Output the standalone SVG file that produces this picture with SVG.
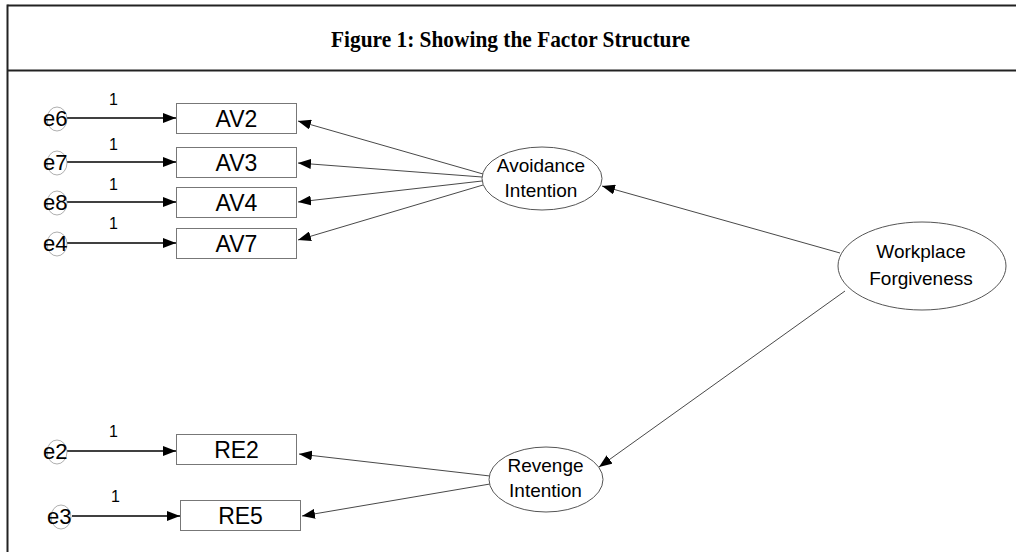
<svg xmlns="http://www.w3.org/2000/svg" width="1016" height="552" viewBox="0 0 1016 552">
<style>
.frame{stroke:#222;stroke-width:2;fill:none}
.title{font-family:"Liberation Serif",serif;font-weight:bold;font-size:23px;fill:#000}
.box{fill:#fff;stroke:#777;stroke-width:1}
.boxt{font-family:"Liberation Sans",Arial,sans-serif;font-size:23px;fill:#000;text-anchor:middle}
.lat{fill:#fff;stroke:#555;stroke-width:1}
.latt{font-family:"Liberation Sans",Arial,sans-serif;font-size:19px;fill:#000;text-anchor:middle}
.err{fill:none;stroke:#999;stroke-width:0.8}
.errt{font-family:"Liberation Sans",Arial,sans-serif;font-size:22px;fill:#000}
.one{font-family:"Liberation Sans",Arial,sans-serif;font-size:16px;fill:#000}
.ec{stroke:#000;stroke-width:1.3;fill:none}
.pc{stroke:#333;stroke-width:0.9;fill:none}
</style>
<defs>
<marker id="ah" viewBox="0 0 13 10" refX="13" refY="5" markerWidth="13" markerHeight="10" markerUnits="userSpaceOnUse" orient="auto">
<path d="M0,0 L13,5 L0,10 Z" fill="#000"/>
</marker>
</defs>
<rect width="1016" height="552" fill="#fff"/>
<g id="frame">
<line class="frame" x1="7.5" y1="5.5" x2="1016" y2="5.5"/>
<line class="frame" x1="7.5" y1="70.5" x2="1016" y2="70.5"/>
<line class="frame" x1="7.5" y1="4.5" x2="7.5" y2="552"/>
<text class="title" x="331" y="47" textLength="359" lengthAdjust="spacingAndGlyphs">Figure 1: Showing the Factor Structure</text>
</g>
<g id="connectors">
<line class="ec" x1="67" y1="118" x2="176" y2="118" marker-end="url(#ah)"/>
<line class="ec" x1="67" y1="162" x2="176" y2="162" marker-end="url(#ah)"/>
<line class="ec" x1="67" y1="202" x2="176" y2="202" marker-end="url(#ah)"/>
<line class="ec" x1="67" y1="243" x2="176" y2="243" marker-end="url(#ah)"/>
<line class="ec" x1="67" y1="451" x2="176" y2="451" marker-end="url(#ah)"/>
<line class="ec" x1="72" y1="516" x2="180" y2="516" marker-end="url(#ah)"/>
<line class="pc" x1="483" y1="174" x2="298" y2="121" marker-end="url(#ah)"/>
<line class="pc" x1="482" y1="177" x2="298" y2="163" marker-end="url(#ah)"/>
<line class="pc" x1="482" y1="181" x2="298" y2="202" marker-end="url(#ah)"/>
<line class="pc" x1="483" y1="185" x2="298" y2="240" marker-end="url(#ah)"/>
<line class="pc" x1="840" y1="253" x2="602" y2="186" marker-end="url(#ah)"/>
<line class="pc" x1="845" y1="291" x2="599" y2="467" marker-end="url(#ah)"/>
<line class="pc" x1="490" y1="476" x2="299" y2="454" marker-end="url(#ah)"/>
<line class="pc" x1="490" y1="484" x2="302" y2="516" marker-end="url(#ah)"/>
<text class="one" x="109" y="105">1</text>
<text class="one" x="109" y="150">1</text>
<text class="one" x="109" y="190">1</text>
<text class="one" x="109" y="229">1</text>
<text class="one" x="109" y="437">1</text>
<text class="one" x="111" y="502">1</text>
</g>
<g id="e6"><ellipse class="err" cx="57" cy="119" rx="10" ry="12"/><text class="errt" x="43" y="126">e6</text></g>
<g id="e7"><ellipse class="err" cx="57" cy="163" rx="10" ry="12"/><text class="errt" x="43" y="170">e7</text></g>
<g id="e8"><ellipse class="err" cx="57" cy="203" rx="10" ry="12"/><text class="errt" x="43" y="210">e8</text></g>
<g id="e4"><ellipse class="err" cx="57" cy="244" rx="10" ry="12"/><text class="errt" x="43" y="251">e4</text></g>
<g id="e2"><ellipse class="err" cx="57" cy="452" rx="10" ry="12"/><text class="errt" x="43" y="459">e2</text></g>
<g id="e3"><ellipse class="err" cx="61" cy="517" rx="10" ry="12"/><text class="errt" x="47" y="524">e3</text></g>
<g id="AV2"><rect class="box" x="176.5" y="103.5" width="120" height="30"/><text class="boxt" x="236.5" y="126.5">AV2</text></g>
<g id="AV3"><rect class="box" x="176.5" y="147.5" width="120" height="30"/><text class="boxt" x="236.5" y="170.5">AV3</text></g>
<g id="AV4"><rect class="box" x="176.5" y="187.5" width="120" height="30"/><text class="boxt" x="236.5" y="210.5">AV4</text></g>
<g id="AV7"><rect class="box" x="176.5" y="228.5" width="120" height="30"/><text class="boxt" x="236.5" y="251.5">AV7</text></g>
<g id="RE2"><rect class="box" x="176.5" y="434.5" width="120" height="30"/><text class="boxt" x="236.5" y="457.5">RE2</text></g>
<g id="RE5"><rect class="box" x="180.5" y="500.5" width="120" height="30"/><text class="boxt" x="240.5" y="523.5">RE5</text></g>
<g id="avoidance"><ellipse class="lat" cx="542" cy="178.5" rx="60" ry="31.5"/><text class="latt" x="541" y="172">Avoidance</text><text class="latt" x="541" y="197">Intention</text></g>
<g id="revenge"><ellipse class="lat" cx="546" cy="479.5" rx="57" ry="32.5"/><text class="latt" x="545.5" y="472">Revenge</text><text class="latt" x="545.5" y="497">Intention</text></g>
<g id="workplace"><ellipse class="lat" cx="922" cy="266" rx="84" ry="44"/><text class="latt" x="921" y="258">Workplace</text><text class="latt" x="921" y="285">Forgiveness</text></g>
</svg>
